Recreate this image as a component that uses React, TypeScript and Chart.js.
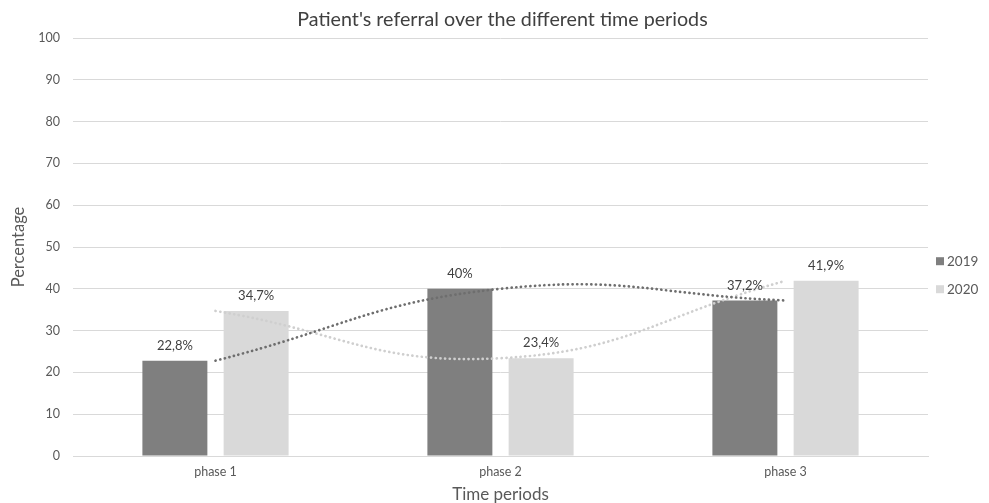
import React, { useEffect, useRef } from 'react';
import { Chart, registerables } from 'chart.js';

Chart.register(...registerables);

const categories = ['phase 1', 'phase 2', 'phase 3'];
const seriesLabels = ['2019', '2020'];
const values2019 = [22.8, 40, 37.2];
const values2020 = [34.7, 23.4, 41.9];
const yMin = 0;
const yMax = 100;
const yStep = 10;
const chartTitle = "Patient's referral over the different time periods";

const FONT = "Lato, 'Open Sans', sans-serif";
const barColors = ['#7f7f7f', '#d9d9d9'];
const trendColors = ['#6e6e6e', '#cfcfcf'];

const fmt = (v: number) => String(v).replace('.', ',') + '%';

const titlePlugin = {
  id: 'centeredTitle',
  afterDraw(chart: any) {
    const ctx = chart.ctx;
    const area = chart.chartArea;
    ctx.save();
    ctx.font = `19.7px ${FONT}`;
    ctx.fillStyle = '#404040';
    ctx.textAlign = 'center';
    ctx.textBaseline = 'middle';
    ctx.fillText(chartTitle, (area.left + area.right) / 2 + 2, area.top - 18);
    ctx.restore();
  },
};

const dataLabelPlugin = {
  id: 'dataLabels',
  afterDatasetsDraw(chart: any) {
    const ctx = chart.ctx;
    ctx.save();
    ctx.font = `13px ${FONT}`;
    ctx.fillStyle = '#404040';
    ctx.textAlign = 'center';
    ctx.textBaseline = 'middle';
    chart.data.datasets.forEach((ds: any, i: number) => {
      if (ds.type !== 'bar') return;
      const meta = chart.getDatasetMeta(i);
      meta.data.forEach((el: any, j: number) => {
        ctx.fillText(fmt(ds.data[j]), el.x, el.y - 15);
      });
    });
    ctx.restore();
  },
};

const legendPlugin = {
  id: 'customLegend',
  afterDraw(chart: any) {
    const ctx = chart.ctx;
    const area = chart.chartArea;
    ctx.save();
    ctx.font = `13.5px ${FONT}`;
    ctx.textAlign = 'left';
    ctx.textBaseline = 'middle';
    let idx = 0;
    const y0 = area.top + (area.bottom - area.top) * 0.534;
    chart.data.datasets.forEach((ds: any) => {
      if (ds.type !== 'bar') return;
      const y = y0 + idx * 28;
      ctx.fillStyle = ds.backgroundColor;
      ctx.fillRect(area.right + 8, y - 4, 8, 8);
      ctx.fillStyle = '#595959';
      ctx.fillText(ds.label, area.right + 19, y);
      idx++;
    });
    ctx.restore();
  },
};

export default function App() {
  const ref = useRef<HTMLCanvasElement>(null);
  useEffect(() => {
    if (!ref.current) return;
    const trend = (label: string, data: number[], color: string) =>
      ({
        type: 'line',
        label,
        data,
        borderColor: color,
        borderWidth: 2.7,
        borderDash: [0.1, 4.6],
        borderCapStyle: 'round',
        pointRadius: 0,
        tension: 0.45,
        fill: false,
        order: 0,
      } as any);
    const bars = (label: string, data: number[], color: string) =>
      ({
        type: 'bar',
        label,
        data,
        backgroundColor: color,
        categoryPercentage: 0.57,
        barPercentage: 0.8,
        order: 1,
      } as any);
    const chart = new Chart(ref.current, {
      type: 'bar',
      data: {
        labels: categories,
        datasets: [
          trend('trend ' + seriesLabels[0], values2019, trendColors[0]),
          trend('trend ' + seriesLabels[1], values2020, trendColors[1]),
          bars(seriesLabels[0], values2019, barColors[0]),
          bars(seriesLabels[1], values2020, barColors[1]),
        ],
      },
      options: {
        animation: false,
        responsive: false,
        maintainAspectRatio: false,
        layout: { padding: { left: 0, right: 61, top: 38, bottom: 0 } },
        plugins: {
          legend: { display: false },
          tooltip: { enabled: false },
          title: { display: false },
        },
        scales: {
          x: {
            grid: { display: false, drawTicks: false },
            border: { display: true, color: '#d9d9d9', width: 1 },
            ticks: { color: '#595959', font: { family: FONT, size: 12.5 }, padding: 8 },
            title: {
              display: true,
              text: 'Time periods',
              color: '#595959',
              font: { family: FONT, size: 17 },
              padding: { top: 0, bottom: -2 },
            },
            afterFit(scale: any) {
              scale.height = 47;
            },
          },
          y: {
            min: yMin,
            max: yMax,
            ticks: { stepSize: yStep, color: '#595959', font: { family: FONT, size: 12.5 }, padding: 13 },
            grid: { color: '#d9d9d9', lineWidth: 1, drawTicks: false },
            border: { display: false },
            title: {
              display: true,
              text: 'Percentage',
              color: '#595959',
              font: { family: FONT, size: 16.5 },
              padding: { top: 9, bottom: 0 },
            },
            afterFit(scale: any) {
              scale.width = 73;
            },
          },
        },
      },
      plugins: [dataLabelPlugin, legendPlugin, titlePlugin],
    });
    return () => chart.destroy();
  }, []);
  return (
    <div style={{ position: 'fixed', left: 0, top: 0, width: 989, height: 503, overflow: 'hidden', background: '#fff' }}>
      <canvas ref={ref} width={989} height={503} style={{ display: 'block', width: 989, height: 503 }} />
    </div>
  );
}
